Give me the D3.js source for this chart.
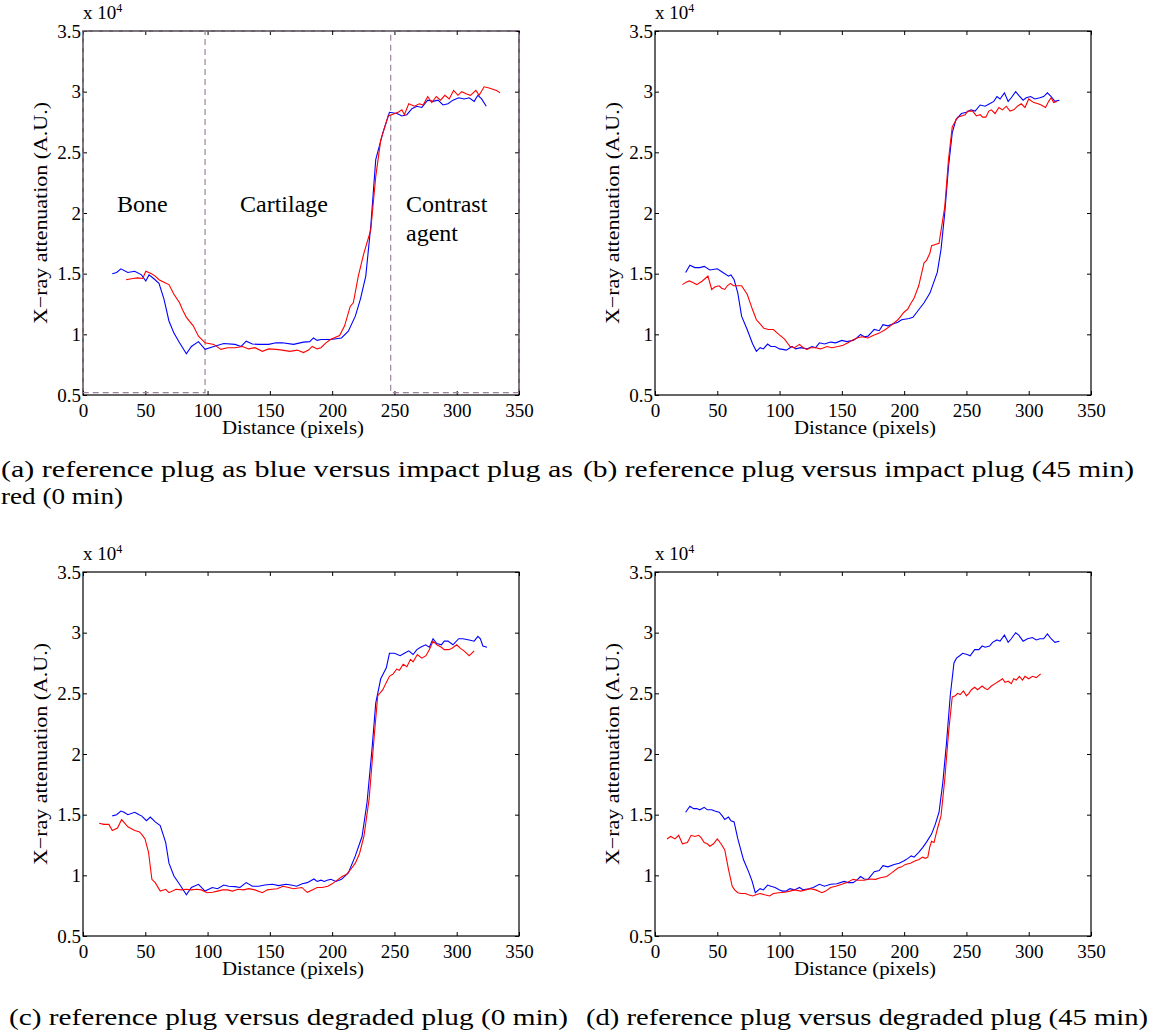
<!DOCTYPE html>
<html>
<head>
<meta charset="utf-8">
<script src="https://cdn.jsdelivr.net/npm/d3@7"></script>
<style>
  body { margin: 0; background: #fff; }
  svg text { font-family: "Liberation Serif", "Times New Roman", Tinos, Times, serif; fill: #000; }
</style>
</head>
<body>
<svg id="svg1" width="1154" height="1036"></svg>
<script>
// distance (pixels), attenuation (x 10^4)
const refA = [[23.5,1.50],[27,1.51],[30.4,1.54],[36,1.51],[41.5,1.52],[47,1.49],[50.4,1.44],[53,1.49],[56.7,1.46],[61,1.42],[65,1.29],[69,1.11],[73,1.01],[77.5,0.93],[83,0.84],[87,0.90],[92.7,0.94],[98,0.876],[105,0.90],[113,0.925],[122,0.917],[127,0.90],[131,0.944],[136,0.92],[141,0.917],[149,0.917],[155,0.93],[160,0.93],[169,0.917],[177,0.936],[182,0.94],[185,0.97],[188,0.95],[191,0.958],[199,0.958],[207.5,0.97],[213,1.026],[218.6,1.15],[222.7,1.29],[227,1.48],[231,1.89],[235,2.44],[240.7,2.66],[246,2.83],[252,2.82],[256,2.80],[260,2.81],[264,2.86],[268,2.88],[272,2.87],[276.7,2.93],[281,2.92],[285,2.93],[289,2.89],[293,2.90],[297,2.93],[301.6,2.95],[306,2.94],[310,2.95],[314,2.92],[317,2.97],[320,2.94],[323.7,2.88]];
const impA = [[34.6,1.45],[40,1.46],[44,1.465],[48,1.46],[50.4,1.52],[55,1.50],[58,1.48],[61,1.45],[65,1.43],[69,1.41],[73,1.33],[77.5,1.26],[80,1.20],[83,1.14],[88.5,1.07],[92.7,0.985],[98,0.93],[105,0.917],[110.7,0.876],[116,0.89],[122,0.89],[128,0.90],[133,0.88],[138,0.89],[144,0.86],[149,0.88],[155,0.876],[160,0.87],[166,0.86],[172,0.87],[177,0.85],[181,0.87],[184,0.90],[188,0.88],[191,0.89],[195,0.93],[199,0.96],[206,0.99],[210,1.07],[214.5,1.23],[217,1.26],[221,1.48],[225.5,1.67],[231,1.86],[235,2.30],[239,2.60],[245,2.80],[250.4,2.82],[253,2.83],[256,2.85],[258,2.81],[261.5,2.90],[266,2.88],[270,2.90],[273,2.89],[276.7,2.96],[280,2.91],[283.6,2.96],[287,2.93],[290.5,2.97],[294,2.94],[297.5,3.01],[301,2.97],[304,3.00],[308,2.98],[311,2.97],[315.4,3.01],[318,2.97],[322,3.04],[326,3.03],[329,3.02],[332,3.01],[334.8,2.99]];

const refB = [[24.6,1.51],[28,1.57],[32,1.55],[36,1.55],[39.5,1.56],[44,1.53],[50,1.54],[54.5,1.51],[59,1.48],[61,1.49],[63.5,1.45],[66.5,1.34],[69.5,1.15],[74,1.04],[78.4,0.92],[81.4,0.86],[84.4,0.89],[87,0.88],[90.4,0.92],[93,0.90],[96.4,0.90],[100,0.88],[102.4,0.876],[105.4,0.87],[110,0.90],[113,0.88],[117,0.89],[122,0.88],[126,0.90],[129,0.89],[132,0.93],[136,0.92],[141,0.936],[145,0.93],[150,0.95],[154,0.94],[159,0.95],[162,0.97],[165,0.999],[168,0.98],[171,0.985],[176,1.04],[180,1.03],[183,1.08],[187,1.07],[192,1.09],[195,1.10],[198,1.12],[204,1.13],[207,1.14],[210,1.18],[216,1.26],[220.7,1.34],[226.6,1.51],[229.6,1.70],[232.6,2.00],[235.6,2.38],[238.6,2.66],[241.6,2.77],[246,2.82],[250,2.83],[253.6,2.85],[257,2.84],[261,2.89],[265,2.88],[268.6,2.90],[272,2.92],[274.5,2.96],[277,2.94],[280.5,2.99],[283.5,2.92],[286,2.95],[289.5,3.00],[292,2.97],[295.5,2.93],[298,2.95],[301.5,2.96],[305,2.94],[309,2.95],[312,2.96],[315,2.99],[318,2.96],[321,2.92],[324.6,2.93]];
const impB = [[22,1.41],[25,1.43],[27.5,1.44],[30,1.43],[33.5,1.41],[38,1.44],[42.5,1.48],[45.5,1.37],[48,1.39],[51.5,1.40],[53.5,1.38],[56,1.37],[58,1.40],[60.5,1.42],[63,1.40],[65,1.40],[69.5,1.40],[74,1.33],[78.4,1.20],[81.4,1.12],[84,1.09],[87.4,1.05],[91,1.04],[95,1.04],[99.4,0.999],[104,0.96],[108.4,0.90],[112,0.89],[116,0.917],[119,0.89],[122,0.876],[125,0.89],[129,0.89],[133,0.88],[138,0.90],[142,0.89],[147,0.90],[151,0.91],[155,0.93],[158,0.95],[162,0.97],[166,0.98],[171,0.97],[175,0.99],[180,1.01],[185,1.04],[189,1.07],[195,1.12],[199.7,1.18],[203,1.21],[205.7,1.26],[208,1.30],[211.7,1.40],[216,1.59],[218,1.61],[220.7,1.67],[222,1.73],[225,1.74],[228,1.75],[232.6,2.05],[235.6,2.44],[238.6,2.71],[243,2.79],[246,2.80],[249,2.81],[251,2.84],[255,2.84],[258,2.80],[261,2.81],[263,2.79],[265.6,2.79],[268,2.84],[270,2.85],[273,2.82],[276,2.87],[279,2.85],[282,2.88],[285,2.84],[288,2.85],[291,2.88],[294,2.90],[297,2.87],[300,2.94],[304,2.91],[307.5,2.90],[310,2.89],[313.5,2.87],[316,2.92],[318,2.95],[320,2.91],[322.5,2.92]];

const refC = [[23.5,1.49],[27,1.50],[30.4,1.53],[33,1.52],[36,1.50],[41.5,1.52],[45,1.50],[47,1.49],[51,1.45],[54,1.48],[58,1.44],[62,1.41],[66.4,1.27],[69,1.10],[73,0.995],[77.5,0.926],[83,0.84],[87,0.90],[92.7,0.926],[98,0.87],[103.8,0.90],[108,0.89],[113,0.92],[117,0.91],[122,0.907],[126,0.90],[131,0.94],[136,0.91],[141,0.91],[146,0.92],[152,0.926],[157,0.915],[163,0.926],[167,0.92],[171.5,0.91],[176,0.93],[180,0.94],[185.4,0.97],[188,0.95],[191,0.96],[193.7,0.95],[196,0.96],[199,0.967],[203,0.95],[207.5,0.967],[213,1.02],[218.6,1.16],[224,1.32],[228,1.60],[232,2.04],[235,2.42],[239,2.62],[243.5,2.71],[246,2.83],[250,2.83],[254.6,2.81],[258,2.83],[261.5,2.85],[265,2.82],[268,2.86],[271,2.88],[275,2.90],[278,2.88],[281,2.95],[284,2.91],[287.7,2.90],[290,2.93],[293,2.93],[297,2.90],[301.6,2.95],[305,2.95],[310,2.94],[314,2.93],[317,2.97],[319,2.95],[321,2.89],[324.3,2.88]];
const degC = [[13,1.43],[16.6,1.42],[20.8,1.42],[23.5,1.37],[27.7,1.39],[31,1.46],[36,1.40],[41.5,1.37],[45,1.36],[47,1.34],[49.8,1.30],[52.6,1.19],[55.3,0.967],[58,0.94],[62,0.87],[66.4,0.885],[69,0.857],[74.7,0.885],[79,0.88],[83,0.885],[87,0.88],[91.3,0.885],[95,0.88],[99.6,0.857],[104,0.86],[108,0.87],[112,0.88],[116,0.88],[120,0.87],[124.5,0.885],[129,0.88],[133,0.89],[138,0.88],[144,0.857],[148,0.88],[152,0.885],[156,0.89],[160.5,0.91],[165,0.90],[169,0.89],[175.7,0.90],[180,0.86],[184,0.88],[188,0.90],[192,0.90],[196.5,0.91],[200,0.93],[204.8,0.967],[208,0.99],[211.7,1.01],[215,1.05],[218.6,1.10],[222,1.18],[225.5,1.32],[229.7,1.63],[233.8,2.15],[236.6,2.48],[240.7,2.53],[243,2.58],[246,2.64],[249,2.66],[251.8,2.70],[254,2.69],[257,2.74],[260,2.72],[262.9,2.78],[265,2.76],[268.4,2.82],[272,2.79],[275.3,2.81],[278,2.86],[281,2.93],[284,2.90],[287.7,2.88],[290,2.86],[293.3,2.86],[296,2.87],[300,2.90],[303,2.87],[305.8,2.85],[308,2.83],[310,2.81],[312,2.83],[314,2.85]];

const refD = [[24.6,1.52],[28,1.57],[31,1.55],[33.5,1.55],[36,1.54],[39.5,1.56],[42,1.54],[45.5,1.54],[48,1.53],[51.5,1.52],[54,1.49],[56,1.46],[59,1.48],[61,1.45],[63.5,1.44],[66.5,1.30],[71,1.13],[75.5,1.02],[78,0.95],[80.5,0.857],[84.4,0.89],[87,0.88],[90.4,0.92],[93,0.91],[96.4,0.90],[100,0.88],[102.4,0.87],[105,0.87],[108.4,0.89],[112,0.88],[116,0.90],[119,0.88],[123.4,0.89],[127,0.90],[132,0.926],[136,0.91],[141,0.926],[146,0.93],[151.8,0.95],[155,0.94],[159,0.94],[162,0.96],[165,0.99],[168,0.97],[171,0.967],[176,1.03],[180,1.04],[183,1.08],[187,1.07],[192,1.09],[196,1.10],[200,1.12],[203,1.14],[205.7,1.16],[208,1.15],[211.7,1.19],[215,1.23],[217.7,1.27],[222,1.34],[225,1.42],[228,1.52],[231,1.76],[234,2.09],[237,2.48],[240,2.75],[242,2.79],[244.6,2.81],[247,2.83],[250.6,2.82],[253,2.81],[256.6,2.86],[260,2.86],[262.6,2.89],[265,2.88],[268.6,2.89],[271,2.92],[274.5,2.94],[277,2.93],[280.5,2.98],[283.5,2.92],[286,2.95],[289.5,3.00],[292,2.98],[295.5,2.93],[299,2.95],[303,2.96],[306,2.94],[309,2.95],[312,2.95],[315,2.99],[318,2.95],[321,2.92],[324.6,2.93]];
const degD = [[9.6,1.30],[12.6,1.32],[16,1.30],[19,1.33],[22,1.26],[26,1.27],[29,1.33],[32,1.32],[35,1.33],[37,1.31],[39.5,1.27],[42,1.26],[44,1.24],[47,1.26],[50,1.30],[53,1.26],[56,1.21],[59,1.05],[62,0.91],[64,0.88],[66.5,0.857],[69,0.85],[72.5,0.85],[75,0.84],[78.4,0.83],[81,0.84],[84.4,0.85],[88,0.84],[92,0.83],[95,0.85],[99.4,0.857],[104,0.86],[108.4,0.87],[112,0.88],[117,0.87],[121,0.88],[125,0.89],[129,0.88],[134,0.857],[137,0.87],[141,0.90],[145,0.91],[150,0.926],[154,0.94],[159,0.967],[163,0.96],[168,0.96],[172,0.97],[177,0.967],[181,0.98],[186,0.99],[190,1.02],[195,1.06],[198,1.07],[201,1.09],[205,1.10],[209,1.12],[212,1.13],[214.7,1.15],[217,1.14],[219,1.15],[220.5,1.23],[222,1.28],[224,1.27],[226.6,1.38],[229.6,1.49],[232.6,1.79],[235.6,2.17],[238.6,2.47],[241,2.48],[243,2.50],[245,2.49],[247.6,2.52],[250,2.48],[252,2.50],[254,2.53],[256.6,2.55],[259,2.53],[262.6,2.56],[265,2.54],[267,2.53],[270,2.56],[273,2.58],[276,2.60],[279,2.62],[281,2.59],[283.5,2.60],[286,2.58],[288,2.62],[290,2.61],[292.5,2.64],[295,2.61],[297,2.64],[300,2.62],[303,2.64],[306,2.63],[309.6,2.66]];

const xTicks = [0, 50, 100, 150, 200, 250, 300, 350];
const yTicks = [0.5, 1, 1.5, 2, 2.5, 3, 3.5];
const yTickLabels = ['0.5', '1', '1.5', '2', '2.5', '3', '3.5'];

// tissue zones marked on panel (a)
const zoneEdges = [98, 247];
const zoneFloor = 0.52;
const zoneNames = [['Bone'], ['Cartilage'], ['Contrast', 'agent']];
const zoneLabelX = [117, 240, 406];

const captions = [
  ['(a) reference plug as blue versus impact plug as', 'red (0 min)'],
  ['(b) reference plug versus impact plug (45 min)'],
  ['(c) reference plug versus degraded plug (0 min)'],
  ['(d) reference plug versus degraded plug (45 min)']
];

const svg1 = d3.select('#svg1');
const serif = '"Liberation Serif", "Times New Roman", Tinos, Times, serif';

const innerWidth = 436;
const innerHeight = 364;
const panels = [
  { left: 83, top: 31, blue: refA, red: impA, cap: { x: 1, y: 477, w: [572, 122] } },
  { left: 655, top: 31, blue: refB, red: impB, cap: { x: 583, y: 477, w: [551] } },
  { left: 83, top: 572, blue: refC, red: degC, cap: { x: 9, y: 1025, w: [559] } },
  { left: 655, top: 572, blue: refD, red: degD, cap: { x: 586, y: 1025, w: [562] } }
];

const xScale = d3.scaleLinear().domain([0, 350]).range([0, innerWidth]);
const yScale = d3.scaleLinear().domain([0.5, 3.5]).range([innerHeight, 0]);

const lineGenerator = d3.line()
  .x(d => xScale(d[0]))
  .y(d => yScale(d[1]));

const render = (p, i) => {
  const g = svg1.append('g')
    .attr('transform', `translate(${p.left},${p.top})`);

  g.append('g')
    .attr('transform', `translate(0,${innerHeight})`)
    .call(d3.axisBottom(xScale).tickValues(xTicks).tickSize(-4).tickPadding(9).tickFormat(d => d));
  g.append('g')
    .call(d3.axisLeft(yScale).tickValues(yTicks).tickSize(-4).tickPadding(2)
      .tickFormat((d, k) => yTickLabels[k]));
  // mirrored ticks on top and right, like MATLAB
  g.append('g')
    .call(d3.axisTop(xScale).tickValues(xTicks).tickSize(-4).tickFormat(''));
  g.append('g')
    .attr('transform', `translate(${innerWidth},0)`)
    .call(d3.axisRight(yScale).tickValues(yTicks).tickSize(-4).tickFormat(''));

  g.selectAll('.domain').remove();
  g.selectAll('g').attr('font-family', serif).attr('font-size', 19);
  g.selectAll('.tick line').attr('stroke', '#000');
  g.selectAll('.tick text').attr('fill', '#000');

  g.append('rect')
    .attr('width', innerWidth)
    .attr('height', innerHeight)
    .attr('fill', 'none')
    .attr('stroke', '#000')
    .attr('stroke-width', 1.2);

  const mult = g.append('text')
    .attr('x', 0)
    .attr('y', -12)
    .attr('font-size', 19);
  mult.append('tspan').text('x 10');
  mult.append('tspan').attr('font-size', 12).attr('dy', -7).text('4');

  g.append('text')
    .attr('x', innerWidth / 2 - 8)
    .attr('y', innerHeight + 39)
    .attr('text-anchor', 'middle')
    .attr('font-size', 19)
    .attr('textLength', 142)
    .attr('lengthAdjust', 'spacingAndGlyphs')
    .text('Distance (pixels)');

  g.append('text')
    .attr('transform', 'rotate(-90)')
    .attr('x', -innerHeight / 2)
    .attr('y', -36)
    .attr('text-anchor', 'middle')
    .attr('font-size', 19)
    .attr('textLength', 222)
    .attr('lengthAdjust', 'spacingAndGlyphs')
    .text('X\u2212ray attenuation (A.U.)');

  if (i === 0) {
    const zones = [[0, zoneEdges[0]], [zoneEdges[1], 350]];
    zones.forEach(z => {
      g.append('rect')
        .attr('x', xScale(z[0]))
        .attr('y', yScale(3.5))
        .attr('width', xScale(z[1]) - xScale(z[0]))
        .attr('height', yScale(zoneFloor) - yScale(3.5))
        .attr('fill', 'none')
        .attr('stroke', '#9c849c')
        .attr('stroke-width', 1.2)
        .attr('stroke-dasharray', '6,4');
    });
    g.append('line')
      .attr('x1', xScale(zoneEdges[0])).attr('x2', xScale(zoneEdges[1]))
      .attr('y1', yScale(3.5)).attr('y2', yScale(3.5))
      .attr('stroke', '#9c849c').attr('stroke-width', 1.2).attr('stroke-dasharray', '6,4');

    zoneNames.forEach((lines, k) => {
      lines.forEach((t, j) => {
        g.append('text')
          .attr('x', zoneLabelX[k] - p.left)
          .attr('y', 181 + j * 29)
          .attr('font-size', 24)
          .text(t);
      });
    });
  }

  g.append('path')
    .attr('d', lineGenerator(p.blue))
    .attr('fill', 'none')
    .attr('stroke', '#0000ff')
    .attr('stroke-width', 1.1);
  g.append('path')
    .attr('d', lineGenerator(p.red))
    .attr('fill', 'none')
    .attr('stroke', '#ff0000')
    .attr('stroke-width', 1.1);

  captions[i].forEach((t, j) => {
    svg1.append('text')
      .attr('x', p.cap.x)
      .attr('y', p.cap.y + j * 27)
      .attr('font-size', 24)
      .attr('textLength', p.cap.w[j])
      .attr('lengthAdjust', 'spacingAndGlyphs')
      .text(t);
  });
};

panels.forEach(render);
</script>
</body>
</html>
